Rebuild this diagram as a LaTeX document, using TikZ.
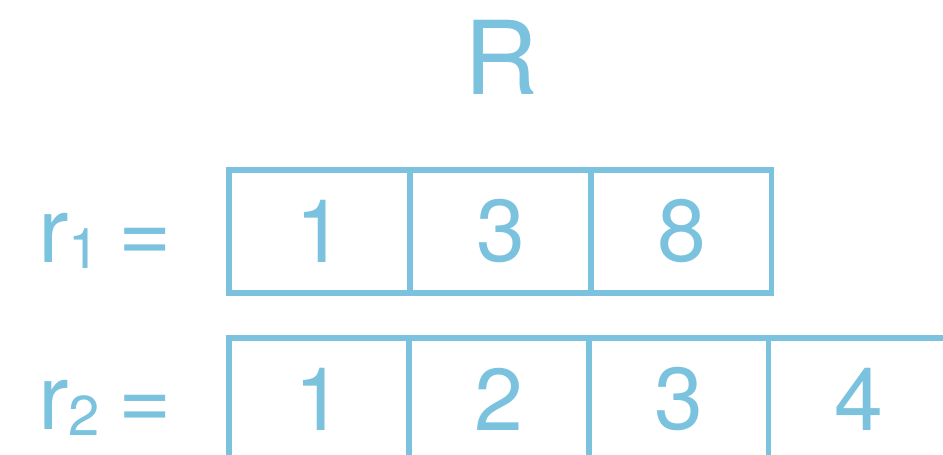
\documentclass[tikz,border=0pt]{standalone}
\usepackage{fontspec}
\setmainfont{TeX Gyre Heros}
\usetikzlibrary{positioning}
\definecolor{relblue}{RGB}{122,194,222}
\tikzset{
  cell/.style={draw=relblue,line width=2.9pt,minimum width=3.62cm,minimum height=2.46cm,inner sep=0pt,outer sep=0pt,text=relblue,font=\fontsize{50}{60}\selectfont},
  rlab/.style={text=relblue,font=\fontsize{52}{60}\selectfont,inner sep=0pt,anchor=base west},
  title/.style={text=relblue,font=\fontsize{58}{66}\selectfont,inner sep=0pt,anchor=base}
}
\newcommand{\rsub}[1]{{\fontsize{32}{36}\selectfont\raisebox{-3pt}{#1}}}

\begin{document}
\begin{tikzpicture}[x=0.02cm,y=-0.02cm]
  \useasboundingbox (0,0) rectangle (943,455);
  \clip (0,0) rectangle (943,455);
  \node[title] (R) at (501,95) {R};
  % first row
  \node[rlab] (r1) at (38,263) {r\rsub{1}\hspace{0.2em}=};
  \node[cell] (a1) at (319.5,231.5) {1};
  \node[cell,right=0pt of a1] (a2) {3};
  \node[cell,right=0pt of a2] (a3) {8};
  % second row
  \node[rlab] (r2) at (38,430) {r\rsub{2}\hspace{0.2em}=};
  \node[cell,minimum width=3.6cm] (b1) at (319,399.5) {1};
  \node[cell,minimum width=3.6cm,right=0pt of b1] (b2) {2};
  \node[cell,minimum width=3.6cm,right=0pt of b2] (b3) {3};
  \node[cell,minimum width=3.6cm,right=0pt of b3] (b4) {4};
\end{tikzpicture}
\end{document}
